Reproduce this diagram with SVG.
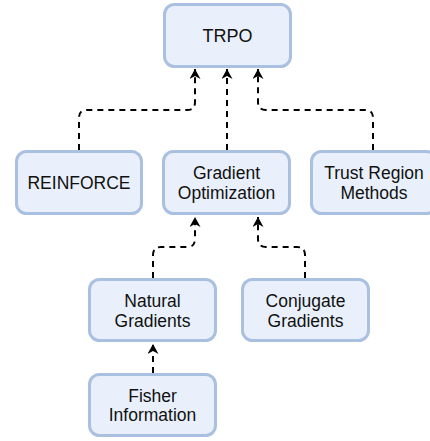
<svg xmlns="http://www.w3.org/2000/svg" width="430" height="441" viewBox="0 0 430 441">
<defs>
<style>
.box{fill:#e9f0fb;stroke:#a9c0e0;stroke-width:3}
.t{font-family:"Liberation Sans",Arial,Helvetica,sans-serif;font-size:17.5px;fill:#111;text-anchor:middle}
.c{fill:none;stroke:#000;stroke-width:2;stroke-dasharray:6 5}
</style>
<marker id="ah" viewBox="0 0 10 11" refX="10" refY="5.5" markerWidth="10" markerHeight="11" markerUnits="userSpaceOnUse" orient="auto">
<path d="M0,0 L10,5.5 L0,11 L3,5.5 Z" fill="#000"/>
</marker>
</defs>
<rect width="430" height="441" fill="#fff"/>
<g id="connectors">
<path class="c" marker-end="url(#ah)" d="M79,150 V118 Q79,110 87,110 H187 Q195,110 195,102 V69"/>
<path class="c" marker-end="url(#ah)" d="M227,150 V69"/>
<path class="c" marker-end="url(#ah)" d="M373,150 V118 Q373,110 365,110 H266 Q258,110 258,102 V69"/>
<path class="c" marker-end="url(#ah)" d="M153,278 V255 Q153,247 161,247 H187 Q195,247 195,239 V217"/>
<path class="c" marker-end="url(#ah)" d="M305,278 V255 Q305,247 297,247 H266 Q258,247 258,239 V217"/>
<path class="c" marker-end="url(#ah)" d="M153,373 V344"/>
</g>
<g id="trpo"><rect class="box" x="164.5" y="4.5" width="126" height="62" rx="10"/><text class="t" x="227.5" y="42" style="font-size:18px">TRPO</text></g>
<g id="reinforce"><rect class="box" x="16.5" y="151.5" width="125" height="62" rx="10"/><text class="t" x="79" y="189">REINFORCE</text></g>
<g id="gradient-optimization"><rect class="box" x="163.5" y="151.5" width="126" height="62" rx="10"/><text class="t" x="226.5" y="179">Gradient</text><text class="t" x="226.5" y="198.5">Optimization</text></g>
<g id="trust-region-methods"><rect class="box" x="311.5" y="151.5" width="125" height="62" rx="10"/><text class="t" x="374" y="179">Trust Region</text><text class="t" x="374" y="198.5">Methods</text></g>
<g id="natural-gradients"><rect class="box" x="89.5" y="279.5" width="126" height="61" rx="10"/><text class="t" x="152.5" y="307">Natural</text><text class="t" x="152.5" y="326.5">Gradients</text></g>
<g id="conjugate-gradients"><rect class="box" x="242.5" y="279.5" width="126" height="61" rx="10"/><text class="t" x="305.5" y="307">Conjugate</text><text class="t" x="305.5" y="326.5">Gradients</text></g>
<g id="fisher-information"><rect class="box" x="89.5" y="374.5" width="126" height="61" rx="10"/><text class="t" x="152.5" y="401.5">Fisher</text><text class="t" x="152.5" y="421">Information</text></g>
</svg>
